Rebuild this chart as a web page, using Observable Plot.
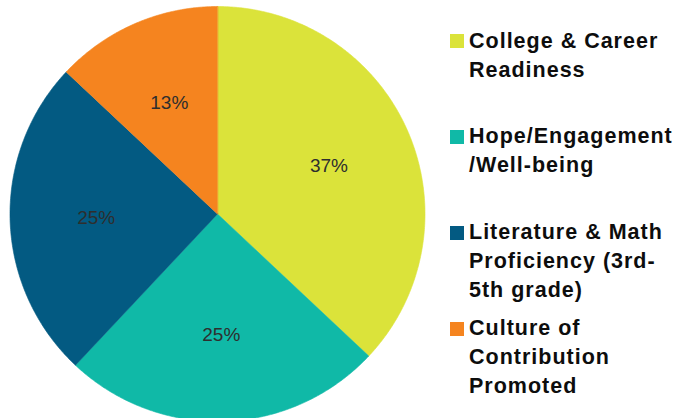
<!DOCTYPE html>
<html><head><meta charset="utf-8">
<script src="https://cdn.jsdelivr.net/npm/d3@7"></script>
<script src="https://cdn.jsdelivr.net/npm/@observablehq/plot@0.6"></script>
<style>
html,body{margin:0;padding:0;background:#fff;}
#wrap{position:relative;width:684px;height:418px;overflow:hidden;background:#fff;}
#chart{position:absolute;left:0;top:0;}
#legend{position:absolute;left:450px;top:0;font-family:"Liberation Sans",Arial,sans-serif;font-weight:bold;font-size:21.5px;letter-spacing:1px;color:#0d0d0d;}
.item{position:absolute;left:0;width:234px;}
.sw{position:absolute;left:0;width:13.5px;height:14px;}
.lbl{position:absolute;left:19px;top:0;line-height:29px;white-space:nowrap;}
</style></head>
<body><div id="wrap"><div id="chart"></div><div id="legend"></div></div>
<script>
// Data
const categories = ["College & Career Readiness", "Hope/Engagement/Well-being", "Literature & Math Proficiency (3rd-5th grade)", "Culture of Contribution Promoted"];
const legendLines = [["College & Career", "Readiness"], ["Hope/Engagement", "/Well-being"], ["Literature & Math", "Proficiency (3rd-", "5th grade)"], ["Culture of", "Contribution", "Promoted"]];
const values = [37, 25, 25, 13];
const colors = ["#dbe33a", "#10b9a7", "#035a82", "#f5841f"];

// Layout
const W = 440, H = 418, CX = 217, CY = 213.5, R = 207.5;

const total = d3.sum(values);
let acc = 0;
const pts = [], lab = [];
categories.forEach((c, i) => {
  const a0 = acc / total * 2 * Math.PI; acc += values[i]; const a1 = acc / total * 2 * Math.PI;
  pts.push({c, x: 0, y: 0});
  const n = Math.max(2, Math.ceil((a1 - a0) / (Math.PI / 360)));
  for (let k = 0; k <= n; k++) { const a = a0 + (a1 - a0) * k / n; pts.push({c, x: Math.sin(a), y: Math.cos(a)}); }
  const am = (a0 + a1) / 2;
  lab.push({c, t: values[i] + "%", x: 0.585 * Math.sin(am), y: 0.585 * Math.cos(am)});
});

const plot = Plot.plot({
  width: W, height: H, margin: 0,
  x: {domain: [-CX / R, (W - CX) / R], axis: null},
  y: {domain: [-(H - CY) / R, CY / R], axis: null},
  color: {domain: categories, range: colors},
  style: {background: "transparent", overflow: "visible"},
  marks: [
    Plot.line(pts, {x: "x", y: "y", z: "c", fill: "c", stroke: "c", strokeWidth: 0.6, curve: "linear-closed"}),
    Plot.text(lab, {x: "x", y: "y", text: "t", fill: "#2e2e2e", fontSize: 19, fontFamily: "Liberation Sans, Arial, sans-serif"})
  ]
});
document.getElementById("chart").appendChild(plot);

// Legend
const legend = document.getElementById("legend");
const top0 = 26.6, step = 95.7;
categories.forEach((c, i) => {
  const item = document.createElement("div");
  item.className = "item";
  item.style.top = (top0 + i * step) + "px";
  const sw = document.createElement("div");
  sw.className = "sw";
  sw.style.top = "7.9px";
  sw.style.background = colors[i];
  const lbl = document.createElement("div");
  lbl.className = "lbl";
  lbl.innerHTML = legendLines[i].map(s => s.replace(/&/g, "&amp;")).join("<br>");
  item.appendChild(sw); item.appendChild(lbl);
  legend.appendChild(item);
});
</script>
</body></html>
